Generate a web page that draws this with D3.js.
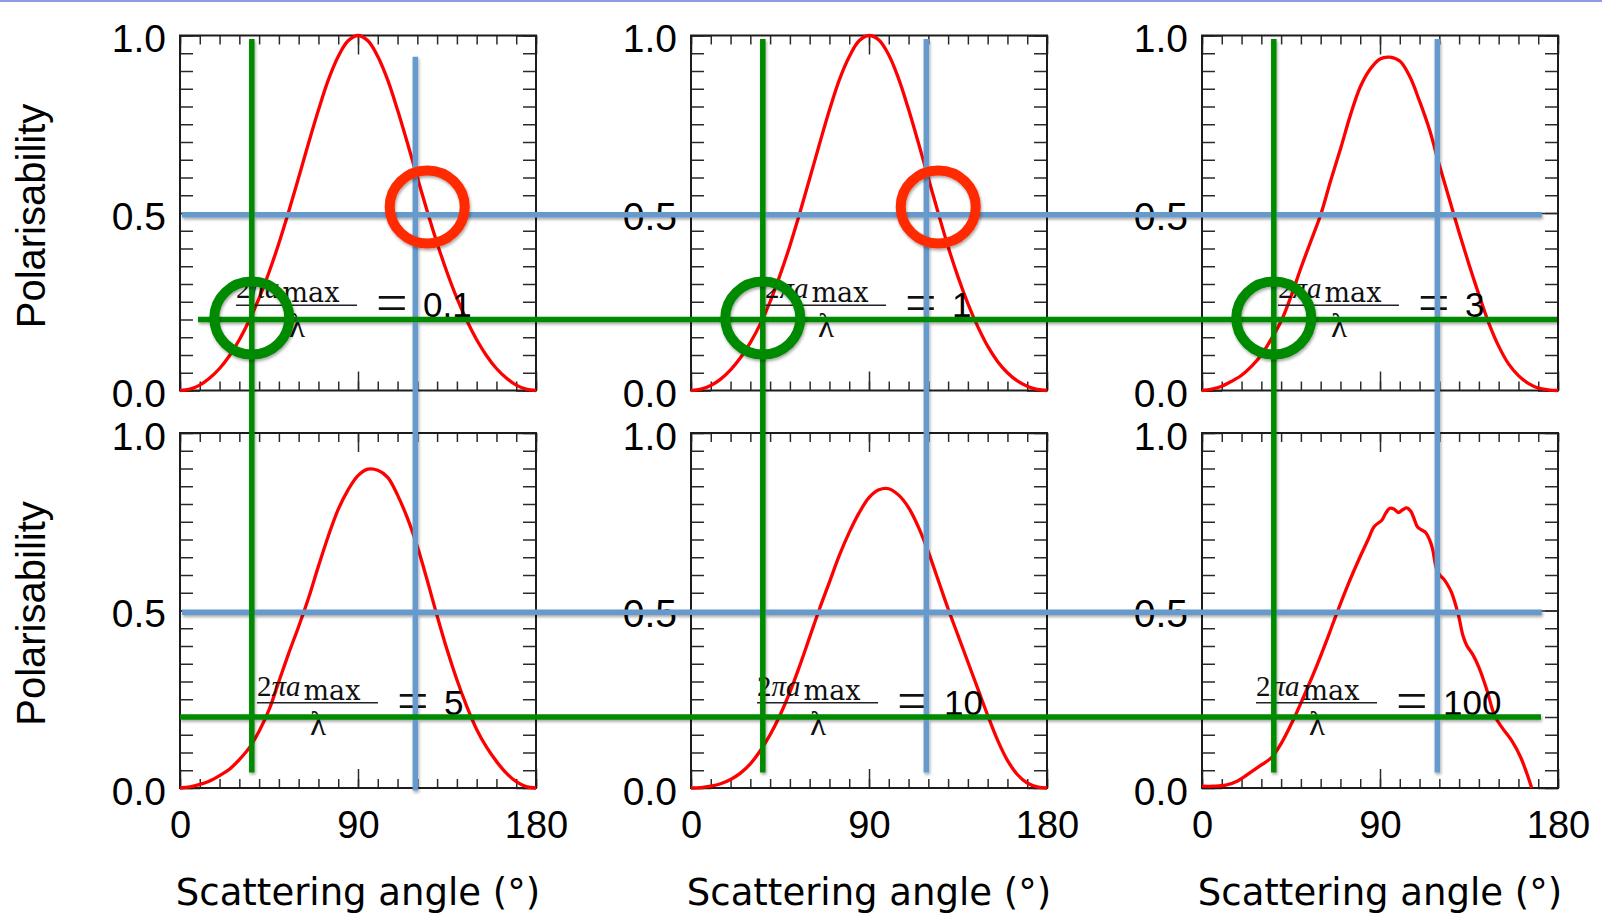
<!DOCTYPE html>
<html>
<head>
<meta charset="utf-8">
<script src="https://cdn.jsdelivr.net/npm/d3@7"></script>
<style>
  html, body { margin: 0; padding: 0; background: #fff; }
  svg { display: block; }
</style>
</head>
<body>
<svg id="chart"></svg>
<script>
// scattering angle grid (deg) for the smooth panels
const angles = [0, 5, 10, 15, 20, 25, 30, 35, 40, 45, 50, 55, 60, 65, 70, 75, 80, 85, 90,
  95, 100, 105, 110, 115, 120, 125, 130, 135, 140, 145, 150, 155, 160, 165, 170, 175, 180];

// polarisability
const pol01 = [0, 0.004, 0.015, 0.035, 0.062, 0.098, 0.143, 0.197, 0.26, 0.333, 0.415, 0.505, 0.60, 0.697, 0.79, 0.875, 0.941, 0.985, 1.0,
  0.985, 0.941, 0.875, 0.79, 0.697, 0.60, 0.505, 0.415, 0.333, 0.26, 0.197, 0.143, 0.098, 0.062, 0.035, 0.015, 0.004, 0];
const pol1 = [0, 0.004, 0.014, 0.032, 0.058, 0.092, 0.135, 0.187, 0.25, 0.325, 0.408, 0.50, 0.597, 0.695, 0.79, 0.875, 0.94, 0.985, 1.0,
  0.987, 0.945, 0.878, 0.792, 0.697, 0.598, 0.50, 0.405, 0.32, 0.245, 0.18, 0.125, 0.082, 0.05, 0.027, 0.012, 0.003, 0];
const pol3 = [0, 0.004, 0.012, 0.026, 0.043, 0.068, 0.10, 0.145, 0.195, 0.265, 0.345, 0.42, 0.495, 0.59, 0.68, 0.775, 0.855, 0.905, 0.934,
  0.939, 0.928, 0.885, 0.815, 0.735, 0.635, 0.54, 0.445, 0.355, 0.27, 0.19, 0.125, 0.075, 0.042, 0.02, 0.007, 0.002, 0];
const pol5 = [0, 0.003, 0.01, 0.02, 0.035, 0.053, 0.08, 0.113, 0.16, 0.22, 0.30, 0.38, 0.455, 0.535, 0.625, 0.71, 0.785, 0.84, 0.88,
  0.898, 0.895, 0.875, 0.825, 0.76, 0.68, 0.585, 0.485, 0.39, 0.305, 0.23, 0.165, 0.115, 0.075, 0.042, 0.018, 0.004, 0];
const pol10 = [0, 0.001, 0.005, 0.012, 0.024, 0.042, 0.068, 0.105, 0.15, 0.205, 0.27, 0.345, 0.425, 0.505, 0.58, 0.655, 0.72, 0.775, 0.818,
  0.84, 0.843, 0.825, 0.79, 0.735, 0.665, 0.585, 0.505, 0.43, 0.355, 0.28, 0.205, 0.135, 0.078, 0.038, 0.014, 0.003, 0];

// the wiggly large-grain panel has its own sampling
const angles100 = [0, 6, 12, 18, 24, 30, 35, 40, 46, 52, 58, 64, 68, 74, 80, 84, 87, 91, 93, 95,
  97, 99.3, 101.5, 103.5, 105.5, 107, 109, 111, 113, 115, 116.5, 118.7, 120.5, 122, 124, 126.3, 129.6, 132, 134, 137,
  140, 144, 148, 152, 157, 161, 164, 166.7];
const pol100 = [0.005, 0.005, 0.008, 0.02, 0.042, 0.065, 0.085, 0.125, 0.19, 0.265, 0.344, 0.43, 0.49, 0.575, 0.652, 0.70, 0.736, 0.755, 0.775, 0.788,
  0.786, 0.776, 0.784, 0.789, 0.78, 0.762, 0.735, 0.727, 0.72, 0.70, 0.675, 0.615, 0.598, 0.59, 0.574, 0.549, 0.488, 0.428, 0.40, 0.375,
  0.34, 0.277, 0.203, 0.168, 0.13, 0.088, 0.045, 0.0];

const sizeLabels = ['0.1', '1', '3', '5', '10', '100'];
const xTickValues = [0, 90, 180];
const yTickValues = [0, 0.5, 1.0];
const labelAngles = [28.3, 37.4, 38.4, 38.9, 33.4, 27.3];   // where each size fraction starts
const labelLevel = 0.24;

// hand-drawn guides laid on top of the slide
const greenAngle = 36.3, blueAngle = 119;
const greenLevel = 0.2, blueLevel = 0.495;
const redRing = { angle: 125, level: 0.517, cols: [0, 1] };
const greenRing = { angle: 36.3, level: 0.204, cols: [0, 1, 2] };

const width = 1602, height = 917;
const panelW = 356, panelH = 355;
const colX = [180, 691, 1202];
const rowY = [35.5, 433];

const sans = '"Liberation Sans", Arial, Helvetica, sans-serif';
const serif = '"Liberation Serif", "Times New Roman", serif';
const GREEN = '#008a00', BLUE = '#6699cc', RED = '#ff2a00';

const svg = d3.select('#chart').attr('width', width).attr('height', height);

const filter = svg.append('defs').append('filter')
  .attr('id', 'shadow')
  .attr('filterUnits', 'userSpaceOnUse')
  .attr('x', 0).attr('y', 0).attr('width', width).attr('height', height);
filter.append('feDropShadow')
  .attr('dx', 1).attr('dy', 2).attr('stdDeviation', 1.8)
  .attr('flood-color', '#000').attr('flood-opacity', 0.35);

svg.append('rect').attr('width', width).attr('height', height).attr('fill', '#fff');
svg.append('rect').attr('width', width).attr('height', 2).attr('fill', '#8d9be3');

const xOf = col => d3.scaleLinear().domain([0, 180]).range([colX[col], colX[col] + panelW]);
const yOf = row => d3.scaleLinear().domain([0, 1]).range([rowY[row] + panelH, rowY[row]]);

const series = [
  { a: angles, v: pol01 }, { a: angles, v: pol1 }, { a: angles, v: pol3 },
  { a: angles, v: pol5 }, { a: angles, v: pol10 }, { a: angles100, v: pol100 }
];

const xMinor = d3.range(0, 181, 10);
const yMinor = d3.range(0, 1.001, 0.05);

function tidy(g) {
  g.select('.domain').remove();
  g.attr('color', '#2a2a2a');
  g.selectAll('.tick line').attr('stroke-width', 1.5);
}

const axesLayer = svg.append('g');
const curveLayer = svg.append('g');
const textLayer = svg.append('g');

series.forEach((s, i) => {
  const col = i % 3, row = Math.floor(i / 3);
  const x = xOf(col), y = yOf(row);
  const left = colX[col], top = rowY[row];
  const g = axesLayer.append('g');

  // inward ticks on all four sides
  g.append('g').attr('transform', `translate(0,${top + panelH})`)
    .call(d3.axisBottom(x).tickValues(xMinor).tickSize(-9).tickFormat('')).call(tidy);
  g.append('g').attr('transform', `translate(0,${top})`)
    .call(d3.axisTop(x).tickValues(xMinor).tickSize(-9).tickFormat('')).call(tidy);
  g.append('g').attr('transform', `translate(0,${top})`)
    .call(d3.axisTop(x).tickValues(xTickValues).tickSize(-19).tickFormat('')).call(tidy);
  g.append('g').attr('transform', `translate(${left},0)`)
    .call(d3.axisLeft(y).tickValues(yMinor).tickSize(-13).tickFormat('')).call(tidy);
  g.append('g').attr('transform', `translate(${left + panelW},0)`)
    .call(d3.axisRight(y).tickValues(yMinor).tickSize(-13).tickFormat('')).call(tidy);
  g.append('g').attr('transform', `translate(${left + panelW},0)`)
    .call(d3.axisRight(y).tickValues(yTickValues).tickSize(-20).tickFormat('')).call(tidy);

  const xMajor = g.append('g').attr('transform', `translate(0,${top + panelH})`)
    .call(d3.axisBottom(x).tickValues(xTickValues).tickSize(-19).tickPadding(23)
      .tickFormat(row === 1 ? d3.format('d') : ''))
    .call(tidy);
  xMajor.attr('font-family', sans).attr('font-size', 38);
  xMajor.selectAll('text').attr('fill', '#000');

  const yMajor = g.append('g').attr('transform', `translate(${left},0)`)
    .call(d3.axisLeft(y).tickValues(yTickValues).tickSize(-20).tickPadding(14).tickFormat(d3.format('.1f')))
    .call(tidy);
  yMajor.attr('font-family', sans).attr('font-size', 39);
  yMajor.selectAll('text').attr('fill', '#000').attr('dy', '0.41em');

  g.append('rect')
    .attr('x', left).attr('y', top).attr('width', panelW).attr('height', panelH)
    .attr('fill', 'none').attr('stroke', '#1c1c1c').attr('stroke-width', 2);

  // polarisability curve
  const line = d3.line().x(d => x(d[0])).y(d => y(d[1])).curve(d3.curveCatmullRom.alpha(0.5));
  curveLayer.append('path')
    .datum(d3.zip(s.a, s.v))
    .attr('d', line)
    .attr('fill', 'none').attr('stroke', '#ff0000').attr('stroke-width', 3.3)
    .attr('stroke-linejoin', 'round');

  // 2πa_max / λ = value
  const bx = x(labelAngles[i]), by = y(labelLevel);
  const lab = textLayer.append('g').attr('fill', '#111').attr('font-family', serif);
  const num = lab.append('text').attr('x', bx).attr('y', by - 7).attr('font-size', 29);
  num.append('tspan').text('2');
  num.append('tspan').attr('font-style', 'italic').text('πa');
  const numW = num.node().getComputedTextLength();
  lab.append('text').attr('x', bx + numW + 3).attr('y', by - 3)
    .attr('font-family', '"DejaVu Serif", serif').attr('font-size', 27).text('max');
  lab.append('line').attr('x1', bx).attr('x2', bx + 121).attr('y1', by).attr('y2', by)
    .attr('stroke', '#222').attr('stroke-width', 1.6);
  lab.append('text').attr('x', bx + 61).attr('y', by + 32).attr('text-anchor', 'middle')
    .attr('font-size', 33).text('λ');
  lab.append('text').attr('x', bx + 140).attr('y', by + 17).attr('font-size', 56).text('=');
  lab.append('text').attr('x', bx + 187).attr('y', by + 12)
    .attr('font-family', sans).attr('font-size', 35).attr('fill', '#000').text(sizeLabels[i]);

  if (row === 1) {
    textLayer.append('text')
      .attr('x', left + panelW / 2).attr('y', top + panelH + 117)
      .attr('text-anchor', 'middle')
      .attr('font-family', '"DejaVu Sans", sans-serif').attr('font-size', 37)
      .text('Scattering angle (°)');
  }
  if (col === 0) {
    textLayer.append('text')
      .attr('transform', `translate(44.6,${top + panelH / 2 + 3}) rotate(-90)`)
      .attr('text-anchor', 'middle')
      .attr('font-family', sans).attr('font-size', 40)
      .text('Polarisability');
  }
});

// guide lines across the panels
const guides = svg.append('g').attr('filter', 'url(#shadow)').attr('stroke-width', 5.5).attr('fill', 'none');

const hLines = [
  { row: 0, level: blueLevel, color: BLUE, from: 1, to: 171.8 },
  { row: 1, level: blueLevel, color: BLUE, from: 1, to: 171.8 },
  { row: 0, level: greenLevel, color: GREEN, from: 9.1, to: 179.5 },
  { row: 1, level: greenLevel, color: GREEN, from: 0, to: 171.4 }
];
const vLines = [
  { col: 0, angle: blueAngle, color: BLUE, top: 0.94, bottom: -0.007 },
  { col: 1, angle: blueAngle, color: BLUE, top: 0.99, bottom: 0.044 },
  { col: 2, angle: blueAngle, color: BLUE, top: 0.99, bottom: 0.044 },
  { col: 0, angle: greenAngle, color: GREEN, top: 0.99, bottom: 0.044 },
  { col: 1, angle: greenAngle, color: GREEN, top: 0.99, bottom: 0.044 },
  { col: 2, angle: greenAngle, color: GREEN, top: 0.99, bottom: 0.044 }
];
const drawOrder = [BLUE, GREEN];
drawOrder.forEach(color => {
  hLines.filter(d => d.color === color).forEach(d => {
    const y = yOf(d.row)(d.level);
    guides.append('line')
      .attr('x1', xOf(0)(d.from)).attr('x2', xOf(2)(d.to))
      .attr('y1', y).attr('y2', y).attr('stroke', d.color);
  });
  vLines.filter(d => d.color === color).forEach(d => {
    const x = xOf(d.col)(d.angle);
    guides.append('line')
      .attr('x1', x).attr('x2', x)
      .attr('y1', yOf(0)(d.top)).attr('y2', yOf(1)(d.bottom)).attr('stroke', d.color);
  });
});

// rings marking the crossings
const rings = svg.append('g').attr('filter', 'url(#shadow)').attr('fill', 'none').attr('stroke-width', 10);
redRing.cols.forEach(c => {
  rings.append('ellipse')
    .attr('cx', xOf(c)(redRing.angle)).attr('cy', yOf(0)(redRing.level))
    .attr('rx', 37.5).attr('ry', 36.5).attr('stroke', RED);
});
greenRing.cols.forEach(c => {
  rings.append('ellipse')
    .attr('cx', xOf(c)(greenRing.angle)).attr('cy', yOf(0)(greenRing.level))
    .attr('rx', 37.5).attr('ry', 36.5).attr('stroke', GREEN);
});
</script>
</body>
</html>
